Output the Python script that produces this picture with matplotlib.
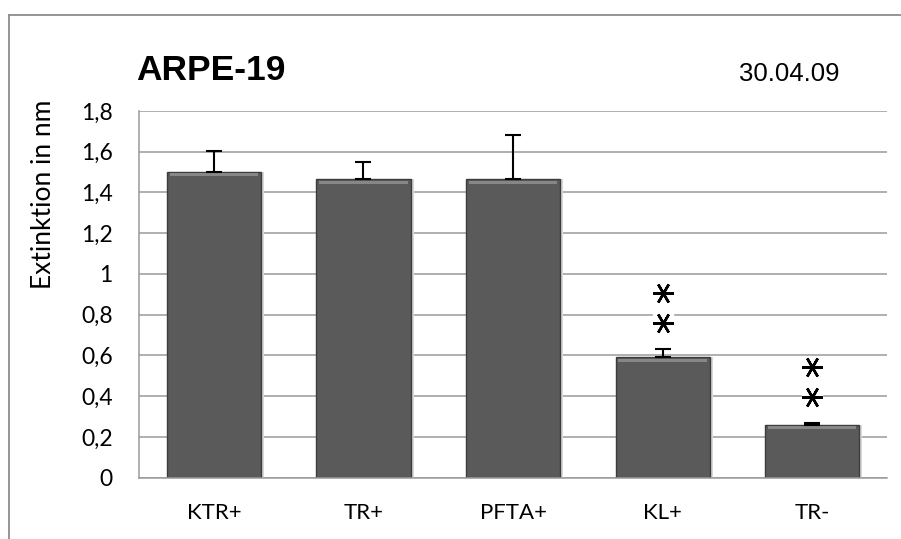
import numpy as np
import matplotlib
matplotlib.use("Agg")
import matplotlib.pyplot as plt
from matplotlib.lines import Line2D

categories = ["KTR+", "TR+", "PFTA+", "KL+", "TR-"]
values = [1.502, 1.466, 1.465, 0.591, 0.260]
errors = [0.102, 0.082, 0.219, 0.039, 0.007]
stars = [0, 0, 0, 2, 2]   # number of asterisks above each bar
yticks = [0, 0.2, 0.4, 0.6, 0.8, 1, 1.2, 1.4, 1.6, 1.8]
ytick_labels = ["0", "0,2", "0,4", "0,6", "0,8", "1", "1,2", "1,4", "1,6", "1,8"]

fig = plt.figure(figsize=(9.01, 5.39), dpi=100)
ax = fig.add_axes([0.1543, 0.1137, 0.8302, 0.6804])

x = np.arange(len(categories))
grid_col = '#9a9a9a'

# gridlines behind the bars
ax.set_axisbelow(True)
ax.yaxis.grid(True, color=grid_col, linewidth=1.1)

# shadow, body and bevelled top of bars
ax.bar(x + 0.02, values, width=0.63, color='#d8d8d8', zorder=1)
ax.bar(x, values, width=0.63, color='#5a5a5a', edgecolor='#3c3c3c', linewidth=1.0, zorder=2)
ax.bar(x, [0.014] * len(values), bottom=np.array(values) - 0.022, width=0.59,
       color='#878787', linewidth=0, zorder=3)

# upward error bars only
ax.errorbar(x, values, yerr=[np.zeros(len(errors)), errors], fmt='none',
            ecolor='black', elinewidth=1.5, capsize=5.5, capthick=1.5, zorder=4)

# significance stars (six-armed asterisks on a white patch)
for xi, v, e, n in zip(x, values, errors, stars):
    for k in range(n):
        ys = v + e + 0.13 + 0.146 * k
        ax.plot(xi, ys, marker='s', markersize=15, color='white', linestyle='none', zorder=5)
        ax.plot(xi, ys, marker=(6, 2, 30), markersize=15, markeredgewidth=1.8,
                color='black', linestyle='none', zorder=6)

ax.set_xlim(-0.5, len(categories) - 0.5)
ax.set_ylim(0, 1.8)
ax.set_yticks(yticks)
ax.set_yticklabels(ytick_labels, family='Lato', fontsize=16.5)
ax.set_xticks(x)
ax.set_xticklabels(categories, family='Lato', fontsize=16)
ax.tick_params(axis='y', length=0, pad=19)
ax.tick_params(axis='x', length=0, pad=18)

for s in ['top', 'right']:
    ax.spines[s].set_visible(False)
for s in ['left', 'bottom']:
    ax.spines[s].set_color(grid_col)
    ax.spines[s].set_linewidth(1.1)

# y axis label placed like the original (not centred on the axis)
fig.text(44 / 901, 1 - 194 / 539, "Extinktion in nm", rotation=90, ha='center', va='center',
         family='Lato', fontsize=19)

fig.text(136 / 901, 1 - 70 / 539, "ARPE-19", family='Liberation Sans', weight='bold',
         fontsize=25.5, ha='left', va='center')
fig.text(839 / 901, 1 - 74 / 539, "30.04.09", family='Liberation Sans',
         fontsize=18.5, ha='right', va='center')

# outer chart frame (runs off the right and bottom edges)
fig.add_artist(Line2D([8.5 / 901, 8.5 / 901], [0, 1 - 15 / 539], transform=fig.transFigure,
                      color='#8c8c8c', linewidth=1.3))
fig.add_artist(Line2D([8.5 / 901, 1], [1 - 15 / 539, 1 - 15 / 539], transform=fig.transFigure,
                      color='#8c8c8c', linewidth=1.3))

fig.savefig("out.png", dpi=100)
